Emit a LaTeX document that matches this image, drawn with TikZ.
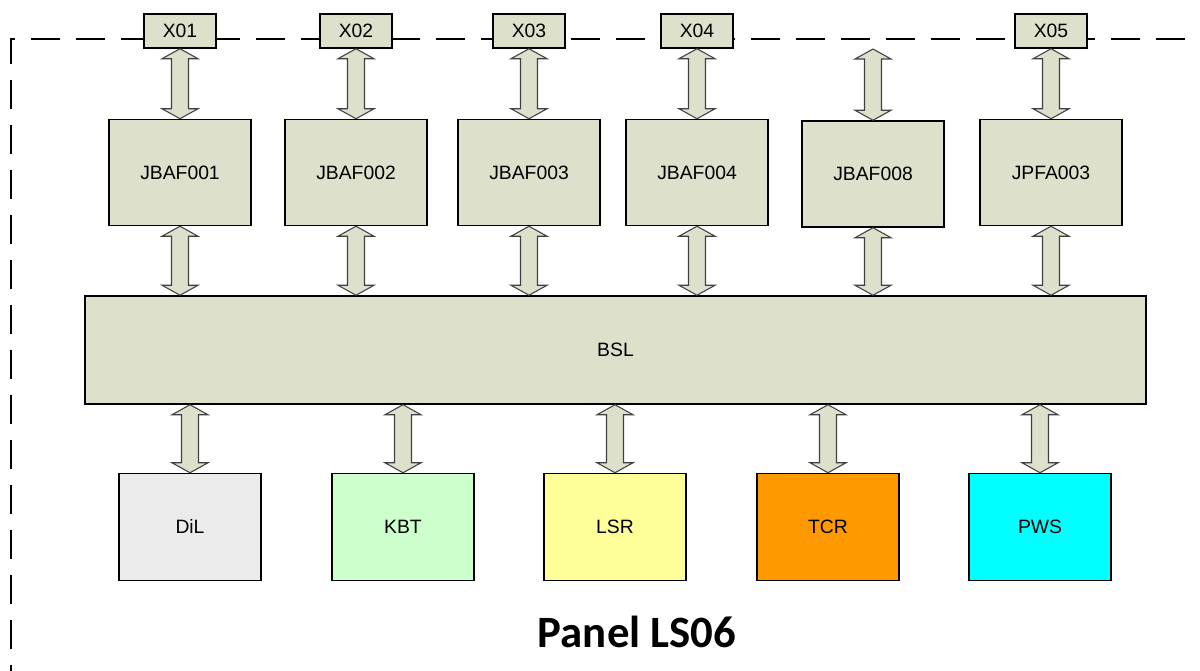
\documentclass[tikz,border=0pt]{standalone}
\usepackage{fontspec}
\setmainfont{Liberation Sans}
\newfontfamily\titlefont{Carlito}
\usetikzlibrary{calc}

\definecolor{boxgreen}{HTML}{DDE0CB}
\definecolor{dilgrey}{HTML}{EBEBEB}
\definecolor{kbtgreen}{HTML}{CCFFCC}
\definecolor{lsryellow}{HTML}{FFFF99}
\definecolor{tcrorange}{HTML}{FF9900}
\definecolor{pwscyan}{HTML}{00FFFF}

\tikzset{
  unit/.style={draw, line width=0.85pt, fill=boxgreen, inner sep=0pt,
    font=\fontsize{11}{13}\selectfont},
  port/.style={unit, minimum width=1.44cm, minimum height=0.68cm},
  card/.style={unit, minimum width=2.84cm, minimum height=2.12cm},
  device/.style={unit, minimum width=2.84cm, minimum height=2.14cm},
  biarrow/.style={draw=black!75, line width=0.6pt, fill=boxgreen},
  frame/.style={line width=0.75pt, dash pattern=on 0.58cm off 0.32cm}
}

% double block arrow, top point #1 down to bottom point #2
\newcommand{\biarrow}[2]{%
  \filldraw[biarrow] let \p1=(#1), \p2=(#2) in
    (\x1,\y1) -- (\x1+0.36cm,\y1-0.2cm) -- (\x1+0.17cm,\y1-0.2cm)
    -- (\x1+0.17cm,\y2+0.2cm) -- (\x1+0.36cm,\y2+0.2cm) -- (\x1,\y2)
    -- (\x1-0.36cm,\y2+0.2cm) -- (\x1-0.17cm,\y2+0.2cm)
    -- (\x1-0.17cm,\y1-0.2cm) -- (\x1-0.36cm,\y1-0.2cm) -- cycle;}

\begin{document}
\begin{tikzpicture}[x=0.02cm, y=-0.02cm]
  \useasboundingbox (0,0) rectangle (1200,671);
  %
  \draw[frame] (1230,39) -- (11,39) -- (11,700);   % panel border
  %
  \node[port] (x01) at (180,31)  {X01};             % ports
  \node[port] (x02) at (356,31)  {X02};
  \node[port] (x03) at (529,31)  {X03};
  \node[port] (x04) at (697,31)  {X04};
  \node[port] (x05) at (1051,31) {X05};
  \coordinate (x08) at (873,49);
  %
  \node[card] (jb1) at (180,172.5) {JBAF001};       % cards
  \node[card] (jb2) at (356,172.5) {JBAF002};
  \node[card] (jb3) at (529,172.5) {JBAF003};
  \node[card] (jb4) at (697,172.5) {JBAF004};
  \node[card] (jb8) at (873,174)   {JBAF008};
  \node[card] (jp3) at (1051,172.5) {JPFA003};
  %
  \node[unit, minimum width=21.22cm, minimum height=2.16cm] (bsl) at (615.5,350) {BSL};
  %
  \node[device, fill=dilgrey]   (dil) at (190,527)  {DiL};   % devices
  \node[device, fill=kbtgreen]  (kbt) at (403,527)  {KBT};
  \node[device, fill=lsryellow] (lsr) at (615,527)  {LSR};
  \node[device, fill=tcrorange] (tcr) at (828,527)  {TCR};
  \node[device, fill=pwscyan]   (pws) at (1040,527) {PWS};
  %
  \node[font=\titlefont\bfseries\fontsize{25.5}{30}\selectfont] (title) at (637,632) {Panel LS06};
  %
  \biarrow{x01.south}{jb1.north}                    % ports to cards
  \biarrow{x02.south}{jb2.north}
  \biarrow{x03.south}{jb3.north}
  \biarrow{x04.south}{jb4.north}
  \biarrow{x08}{jb8.north}
  \biarrow{x05.south}{jp3.north}
  %
  \biarrow{jb1.south}{bsl.north}                    % cards to bus
  \biarrow{jb2.south}{bsl.north}
  \biarrow{jb3.south}{bsl.north}
  \biarrow{jb4.south}{bsl.north}
  \biarrow{jb8.south}{bsl.north}
  \biarrow{jp3.south}{bsl.north}
  %
  \biarrow{bsl.south -| dil}{dil.north}             % bus to devices
  \biarrow{bsl.south -| kbt}{kbt.north}
  \biarrow{bsl.south -| lsr}{lsr.north}
  \biarrow{bsl.south -| tcr}{tcr.north}
  \biarrow{bsl.south -| pws}{pws.north}
\end{tikzpicture}
\end{document}
